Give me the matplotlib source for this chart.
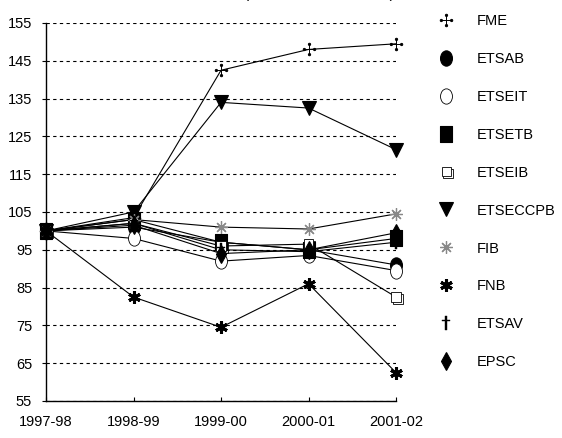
import matplotlib
matplotlib.use('Agg')
import matplotlib.pyplot as plt
from matplotlib.path import Path
from matplotlib.lines import Line2D
import matplotlib.patheffects as pe

plt.rcParams['font.family'] = ['Liberation Sans', 'DejaVu Sans']

years = ['1997-98', '1998-99', '1999-00', '2000-01', '2001-02']
fme = [100, 103.5, 142.5, 148, 149.5]
etsab = [100, 101, 97, 95, 91]
etseit = [100, 98, 92, 93.5, 89.5]
etsetb = [100, 103, 97, 95, 98]
etseib = [100, 102, 96, 96.5, 82.5]
etseccpb = [100, 105, 134, 132.5, 121.5]
fib = [100, 103, 101, 100.5, 104.5]
fnb = [100, 82.5, 74.5, 86, 62.5]
etsav = [100, 102, 95, 94.5, 97]
epsc = [100, 101.5, 94, 95, 99.5]
yticks = list(range(55, 156, 10))


def fme_marker():
    parts = [Path([(-1, 0), (1, 0)]), Path([(0, -1), (0, 1)])]
    for cx, cy in [(1, 0), (-1, 0), (0, 1), (0, -1)]:
        parts.append(Path.circle((cx, cy), 0.22))
    return Path.make_compound_path(*parts)


def ellipse():
    c = Path.unit_circle()
    return Path(c.vertices * [0.78, 1.0], c.codes)


def tall_rect():
    return Path([(-0.8, -1), (0.8, -1), (0.8, 1), (-0.8, 1), (-0.8, -1)], closed=True)


shadow = [pe.SimpleLineShadow(offset=(1.3, -1.3), shadow_color='k', alpha=1), pe.Normal()]

series = [
    ('FME', fme, dict(marker=fme_marker(), ms=9, mfc='k', mec='k', mew=0.7)),
    ('ETSAB', etsab, dict(marker=ellipse(), ms=11, mfc='k', mec='k', mew=0.8)),
    ('ETSEIT', etseit, dict(marker=ellipse(), ms=11, mfc='white', mec='k', mew=0.6)),
    ('ETSETB', etsetb, dict(marker=tall_rect(), ms=11, mfc='k', mec='k', mew=0.8)),
    ('ETSEIB', etseib, dict(marker='s', ms=7, mfc='white', mec='k', mew=0.6, path_effects=shadow)),
    ('ETSECCPB', etseccpb, dict(marker='v', ms=10, mfc='k', mec='k', mew=0.8)),
    ('FIB', fib, dict(marker=(8, 2, 0), ms=9, mfc='#888888', mec='#888888', mew=0.9)),
    ('FNB', fnb, dict(marker=(6, 2, 0), ms=9, mfc='k', mec='k', mew=2.2)),
    ('ETSAV', etsav, dict(marker='$\\dagger$', ms=10, mfc='k', mec='k', mew=0.3)),
    ('EPSC', epsc, dict(marker='d', ms=9, mfc='k', mec='k', mew=0.8)),
]

fig = plt.figure(figsize=(5.62, 4.38), dpi=100)
ax = fig.add_axes([0.0819, 0.0845, 0.6228, 0.863])

x = list(range(len(years)))
handles = []
for name, vals, style in series:
    ax.plot(x, vals, color='k', lw=0.8, zorder=3, clip_on=False)
    ax.plot(x, vals, linestyle='none', zorder=4, clip_on=False, **style)
    handles.append(Line2D([], [], linestyle='none', label=name, **style))

ax.set_xlim(0, 4)
ax.set_ylim(55, 155)
ax.set_yticks(yticks)
ax.set_xticks(x)
ax.set_xticklabels(years)
ax.set_xticks([1, 2, 3], minor=True)

ax.grid(True, axis='y', which='major', color='k', lw=0.8, linestyle=(0, (3, 3)))
ax.grid(True, axis='x', which='minor', color='k', lw=0.8, linestyle=(0, (3, 3)))
ax.set_axisbelow(True)

for s in ['top', 'right']:
    ax.spines[s].set_visible(False)
for s in ['left', 'bottom']:
    ax.spines[s].set_linewidth(1.0)

ax.tick_params(axis='y', direction='out', length=3, width=0.8, pad=7, labelsize=10.5)
ax.tick_params(axis='x', which='major', direction='in', length=3, width=0.8, pad=10, labelsize=10.5)
ax.tick_params(axis='x', which='minor', length=0)

fig.text(0.569, 1.004, '(índex 1997-98 = 100)', ha='center', va='baseline', fontsize=11)

fig.legend(handles=handles, loc='upper left', bbox_to_anchor=(0.758, 0.998),
           frameon=False, handlelength=1.0, handletextpad=1.6,
           labelspacing=1.64, fontsize=10.5)

fig.savefig('out.png', dpi=100)
